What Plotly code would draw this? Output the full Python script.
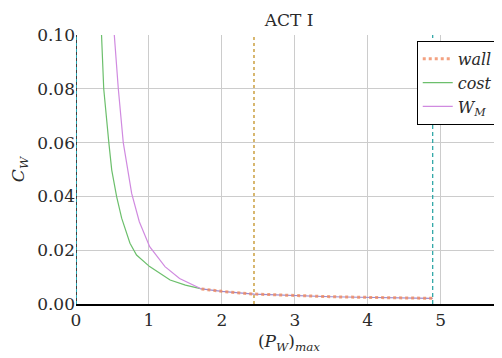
import plotly.graph_objects as go

# Data
cost_x = [0.35, 0.38, 0.45, 0.49, 0.557, 0.626, 0.74, 0.83, 1.01, 1.29, 1.50, 1.72]
cost_y = [0.100, 0.080, 0.060, 0.0498, 0.0399, 0.0319, 0.0226, 0.0182, 0.0139, 0.0089, 0.0070, 0.0056]

wm_x = [0.525, 0.58, 0.648, 0.708, 0.763, 0.868, 1.01, 1.22, 1.42, 1.72]
wm_y = [0.100, 0.080, 0.060, 0.0498, 0.0411, 0.0306, 0.0213, 0.0139, 0.0095, 0.0056]

wall_x = [1.72, 2.0, 2.44, 3.0, 3.5, 3.89, 4.4, 4.89]
wall_y = [0.0056, 0.0047, 0.0037, 0.0031, 0.0027, 0.0025, 0.0023, 0.0021]

vline_x = [0.0, 2.44, 4.89]

x_ticks = [0, 1, 2, 3, 4, 5]
y_ticks = [0.00, 0.02, 0.04, 0.06, 0.08, 0.10]

FONT = "DejaVu Serif"

fig = go.Figure()

# continuation of cost / W_M under the wall curve
fig.add_trace(go.Scatter(x=wall_x, y=wall_y, mode="lines",
                         line=dict(color="#9a8ad0", width=1.2), showlegend=False, hoverinfo="skip"))

fig.add_trace(go.Scatter(x=wall_x, y=wall_y, mode="lines", name="<i>wall</i>",
                         line=dict(color="#f08a60", width=3, dash="dot"), opacity=0.8))
fig.add_trace(go.Scatter(x=cost_x, y=cost_y, mode="lines", name="<i>cost</i>",
                         line=dict(color="#6cbf6c", width=1.2)))
fig.add_trace(go.Scatter(x=wm_x, y=wm_y, mode="lines", name="<i>W<sub>M</sub></i>",
                         line=dict(color="#d08ae0", width=1.2)))

# vertical reference lines
fig.add_vline(x=vline_x[0], line=dict(color="black", width=1.5))
fig.add_vline(x=vline_x[0], line=dict(color="#20c8d8", width=1.5, dash="3px,3px"))
fig.add_vline(x=vline_x[1], line=dict(color="#d4b060", width=1.8, dash="3px,3px"))
fig.add_vline(x=vline_x[2], line=dict(color="#20a0a0", width=1.2, dash="4px,3px"))

fig.update_layout(
    width=494, height=350,
    margin=dict(l=68, r=0, t=27, b=54),
    paper_bgcolor="white", plot_bgcolor="white",
    font=dict(family=FONT, size=17, color="#2a2a2a"),
    title=dict(text="ACT I", x=0.5, xref="paper", xanchor="center", y=1, yref="paper",
               yanchor="bottom", pad=dict(b=9), font=dict(family=FONT, size=17)),
    showlegend=True,
    legend=dict(x=0.99, y=0.978, xanchor="right", yanchor="top",
                bgcolor="white", bordercolor="black", borderwidth=1,
                font=dict(family=FONT, size=16), tracegroupgap=0,
                itemwidth=30),
    xaxis=dict(range=[0, 5.84], tickvals=x_ticks, ticktext=[str(v) for v in x_ticks],
               showgrid=True, gridcolor="#cccccc", gridwidth=1,
               zeroline=False, showline=True, linecolor="black", linewidth=1.5,
               ticks="", tickfont=dict(family=FONT, size=17),
               title=dict(text="(<i>P<sub>W</sub></i>)<sub><i>max</i></sub>", standoff=6,
                          font=dict(family=FONT, size=17))),
    yaxis=dict(range=[0, 0.1], tickvals=y_ticks, ticktext=[f"{v:.2f}" for v in y_ticks],
               showgrid=True, gridcolor="#cccccc", gridwidth=1,
               zeroline=False, showline=False,
               ticks="", tickfont=dict(family=FONT, size=17),
               title=dict(text="<i>C<sub>W</sub></i>", standoff=10,
                          font=dict(family=FONT, size=17))),
)

fig.write_html("out.html")
